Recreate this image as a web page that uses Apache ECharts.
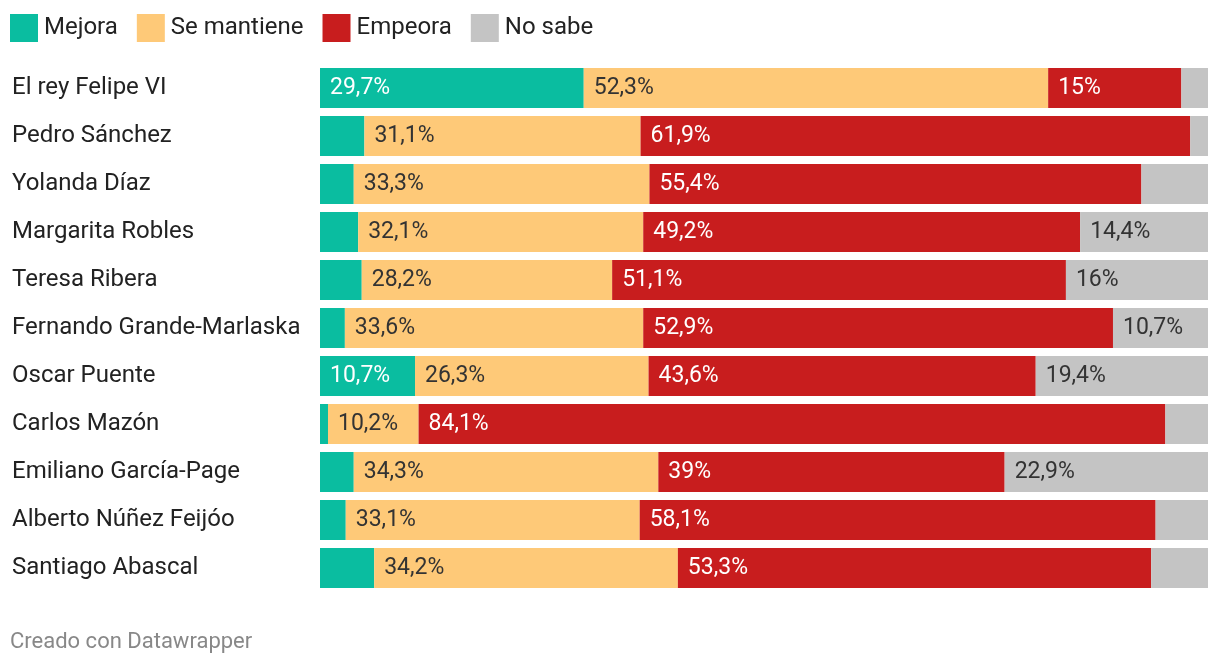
<!DOCTYPE html>
<html><head><meta charset="utf-8">
<script src="https://cdn.jsdelivr.net/npm/echarts@6/dist/echarts.min.js"></script>
<style>html,body{margin:0;padding:0;background:#fff}#c{width:1220px;height:666px}</style>
</head><body><div id="c"></div>
<script>
const categories = ["El rey Felipe VI","Pedro Sánchez","Yolanda Díaz","Margarita Robles","Teresa Ribera","Fernando Grande-Marlaska","Oscar Puente","Carlos Mazón","Emiliano García-Page","Alberto Núñez Feijóo","Santiago Abascal"];
const seriesNames = ["Mejora","Se mantiene","Empeora","No sabe"];
const mejora = [29.7,5.0,3.8,4.3,4.7,2.8,10.7,0.9,3.8,2.9,6.1];
const seMantiene = [52.3,31.1,33.3,32.1,28.2,33.6,26.3,10.2,34.3,33.1,34.2];
const empeora = [15,61.9,55.4,49.2,51.1,52.9,43.6,84.1,39,58.1,53.3];
const noSabe = [3.0,2.0,7.5,14.4,16,10.7,19.4,4.8,22.9,5.9,6.4];
const colors = ["#0abda0","#fec978","#c81d1e","#c4c4c4"];
const labelColors = ["#ffffff","#333333","#ffffff","#333333"];
const values = [mejora, seMantiene, empeora, noSabe];

const fmt = v => v >= 8 ? String(v).replace('.', ',') + '%' : '';
const chart = echarts.init(document.getElementById('c'));
chart.setOption({
  animation: false,
  textStyle: {fontFamily: 'Roboto'},
  legend: {
    left: 5, top: 9, itemWidth: 28, itemHeight: 28, itemGap: 19, icon: 'rect',
    textStyle: {fontSize: 24, color: '#222', fontFamily: 'Roboto', padding: [0,0,0,1]},
    data: seriesNames
  },
  grid: {left: 320, right: 12, top: 64, bottom: 74},
  xAxis: {type: 'value', min: 0, max: 100, show: false},
  yAxis: {
    type: 'category', data: categories, inverse: true,
    axisLine: {show: false}, axisTick: {show: false},
    axisLabel: {margin: 308, align: 'left', fontSize: 24, color: '#222', fontFamily: 'Roboto', padding: [4,0,0,0]}
  },
  series: seriesNames.map((n, i) => ({
    name: n, type: 'bar', stack: 'all', barWidth: 40,
    data: values[i],
    itemStyle: {color: colors[i]},
    label: {show: true, position: 'insideLeft', distance: 10, fontSize: 23, color: labelColors[i], fontFamily: 'Roboto',
      padding: [4,0,0,0], formatter: p => fmt(p.value)}
  })),
  graphic: [{type: 'text', left: 10, top: 631, style: {text: 'Creado con Datawrapper', fontSize: 22, fill: '#888', fontFamily: 'Roboto'}}]
});
</script></body></html>
